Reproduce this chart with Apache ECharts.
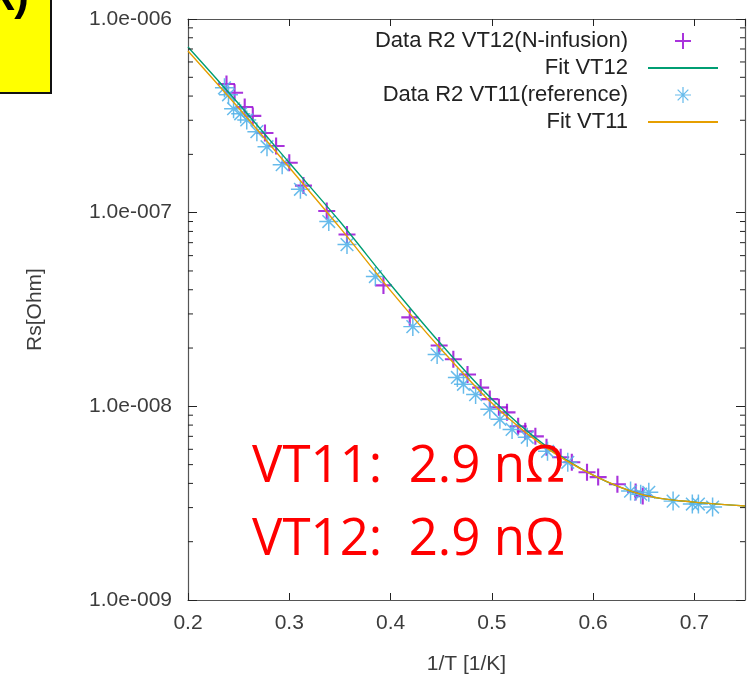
<!DOCTYPE html>
<html>
<head>
<meta charset="utf-8">
<script src="https://cdn.jsdelivr.net/npm/echarts@6/dist/echarts.min.js"></script>
<style>
  html, body { margin: 0; padding: 0; background: #fff; }
  #chart { width: 750px; height: 680px; }
</style>
</head>
<body>
<div id="chart"></div>
<script>
// Surface resistance vs inverse temperature, two cavities (VT11 reference, VT12 N-infusion)

// Measured points: 1/T [1/K] and Rs [Ohm]
const vt12X = [0.238, 0.246, 0.256, 0.264, 0.276, 0.287, 0.300, 0.314, 0.337, 0.357,
               0.393, 0.419, 0.448, 0.462, 0.476, 0.489, 0.498, 0.507, 0.515, 0.526,
               0.533, 0.543, 0.554, 0.568, 0.579, 0.594, 0.605, 0.624, 0.642, 0.649];
const vt12Y = [4.62e-7, 4.16e-7, 3.51e-7, 3.16e-7, 2.58e-7, 2.21e-7, 1.81e-7, 1.38e-7, 1.02e-7, 7.71e-8,
               4.21e-8, 2.88e-8, 2.06e-8, 1.75e-8, 1.46e-8, 1.25e-8, 1.09e-8, 9.88e-9, 9.31e-9, 7.89e-9,
               7.43e-9, 7.00e-9, 6.15e-9, 5.46e-9, 5.14e-9, 4.57e-9, 4.31e-9, 3.96e-9, 3.61e-9, 3.44e-9];

const vt11X = [0.236, 0.240, 0.245, 0.252, 0.258, 0.268, 0.278, 0.293, 0.311, 0.339,
               0.357, 0.385, 0.422, 0.446, 0.466, 0.472, 0.484, 0.498, 0.508, 0.520,
               0.535, 0.555, 0.575, 0.637, 0.647, 0.655, 0.679, 0.698, 0.704, 0.718];
const vt11Y = [4.41e-7, 4.06e-7, 3.44e-7, 3.24e-7, 3.01e-7, 2.62e-7, 2.19e-7, 1.77e-7, 1.32e-7, 9.0e-8,
               6.84e-8, 4.68e-8, 2.58e-8, 1.85e-8, 1.41e-8, 1.30e-8, 1.15e-8, 9.66e-9, 8.57e-9, 7.60e-9,
               6.92e-9, 5.86e-9, 5.14e-9, 3.65e-9, 3.52e-9, 3.60e-9, 3.24e-9, 3.13e-9, 3.13e-9, 3.02e-9];

// Fitted curves
const fitX     = [0.20, 0.25, 0.30, 0.35, 0.40, 0.45, 0.50, 0.55, 0.60, 0.65, 0.70, 0.75];
const fitVT12Y = [7.17e-7, 3.65e-7, 1.81e-7, 9.0e-8, 4.26e-8, 2.09e-8, 1.09e-8, 6.44e-9, 4.41e-9, 3.48e-9, 3.20e-9, 3.06e-9];
const fitVT11Y = [6.84e-7, 3.47e-7, 1.71e-7, 8.37e-8, 3.96e-8, 1.97e-8, 1.04e-8, 6.30e-9, 4.41e-9, 3.48e-9, 3.20e-9, 3.06e-9];

// Axis ranges and tick labels
const xMin = 0.2, xMax = 0.75, xStep = 0.1;
const xTickLabels = ['0.2', '0.3', '0.4', '0.5', '0.6', '0.7'];
const yMin = 1e-9, yMax = 1e-6;
const yTickLabels = ['1.0e-009', '1.0e-008', '1.0e-007', '1.0e-006'];
const yMinorTicks = [2e-9, 3e-9, 4e-9, 5e-9, 6e-9, 7e-9, 8e-9, 9e-9,
                     2e-8, 3e-8, 4e-8, 5e-8, 6e-8, 7e-8, 8e-8, 9e-8,
                     2e-7, 3e-7, 4e-7, 5e-7, 6e-7, 7e-7, 8e-7, 9e-7];

const legendNames = ['Data R2 VT12(N-infusion)', 'Fit VT12', 'Data R2 VT11(reference)', 'Fit VT11'];
const annotation = ['VT11:  2.9 n\u03A9', 'VT12:  2.9 n\u03A9'];

const FONT = '"Liberation Sans", Arial, sans-serif';
const TEXT = '#3c3c3c';
const FRAME = '#555';

const plusPath = 'path://M7,0H9V16H7Z M0,7H16V9H0Z';
const starPath = 'path://M8.3,0H9.7V18H8.3Z M0,8.3H18V9.7H0Z M2.5,3.5L3.5,2.5L15.5,14.5L14.5,15.5Z M14.5,2.5L15.5,3.5L3.5,15.5L2.5,14.5Z';

const zip = (xs, ys) => xs.map((x, i) => [x, ys[i]]);

const chart = echarts.init(document.getElementById('chart'), null, { renderer: 'canvas' });

const option = {
  animation: false,
  backgroundColor: '#fff',
  textStyle: { fontFamily: FONT },
  grid: { left: 188, right: 5, top: 19, bottom: 80, containLabel: false },
  legend: {
    orient: 'vertical',
    right: 26,
    top: 25,
    align: 'right',
    itemWidth: 70,
    itemHeight: 16,
    itemGap: 5,
    selectedMode: false,
    textStyle: { fontFamily: FONT, fontSize: 22, color: '#222', padding: [0, 15, 0, 0] },
    data: [
      { name: legendNames[0] },
      { name: legendNames[1], itemStyle: { opacity: 0 } },
      { name: legendNames[2] },
      { name: legendNames[3], itemStyle: { opacity: 0 } }
    ]
  },
  xAxis: [
    {
      type: 'value', min: xMin, max: xMax, interval: xStep,
      name: '1/T [1/K]', nameLocation: 'middle', nameGap: 54,
      nameTextStyle: { fontFamily: FONT, fontSize: 21, color: TEXT },
      axisLine: { show: true, lineStyle: { color: FRAME, width: 1.2 } },
      axisTick: { show: true, inside: true, length: 7, lineStyle: { color: '#222' } },
      axisLabel: {
        margin: 13, fontSize: 21, color: TEXT, fontFamily: FONT, showMaxLabel: false,
        formatter: (v) => {
          const i = Math.round((v - xMin) / xStep);
          return Math.abs(xMin + i * xStep - v) < 1e-6 ? (xTickLabels[i] || '') : '';
        }
      },
      splitLine: { show: false }
    },
    {
      type: 'value', position: 'top', min: xMin, max: xMax, interval: xStep,
      axisLine: { show: true, lineStyle: { color: FRAME, width: 1.2 } },
      axisTick: { show: true, inside: true, length: 7, lineStyle: { color: '#222' } },
      axisLabel: { show: false },
      splitLine: { show: false }
    }
  ],
  yAxis: [
    {
      type: 'log', logBase: 10, min: yMin, max: yMax,
      name: 'Rs[Ohm]', nameLocation: 'middle', nameGap: 142, nameRotate: 90,
      nameTextStyle: { fontFamily: FONT, fontSize: 21, color: TEXT },
      axisLine: { show: true, lineStyle: { color: FRAME, width: 1.2 } },
      axisTick: { show: true, inside: true, length: 9, lineStyle: { color: '#222' } },
      axisLabel: {
        margin: 16, fontSize: 21, color: TEXT, fontFamily: FONT,
        formatter: (v) => yTickLabels[Math.round(Math.log10(v / yMin))] || ''
      },
      splitLine: { show: false }
    },
    {
      type: 'log', logBase: 10, min: yMin, max: yMax, position: 'right',
      axisLine: { show: true, lineStyle: { color: FRAME, width: 1.2 } },
      axisTick: { show: true, inside: true, length: 9, lineStyle: { color: '#222' } },
      axisLabel: { show: false },
      splitLine: { show: false }
    }
  ],
  series: [
    {
      name: legendNames[0], type: 'scatter',
      symbol: plusPath, symbolSize: 17, symbolKeepAspect: true,
      itemStyle: { color: '#9400d3' },
      data: zip(vt12X, vt12Y), z: 3
    },
    {
      name: legendNames[1], type: 'line', symbol: 'none', smooth: 0.3,
      lineStyle: { color: '#009e73', width: 1.4 },
      itemStyle: { color: '#009e73' },
      data: zip(fitX, fitVT12Y), z: 4
    },
    {
      name: legendNames[2], type: 'scatter',
      symbol: starPath, symbolSize: 19, symbolKeepAspect: true,
      itemStyle: { color: '#56b4e9', opacity: 0.9 },
      data: zip(vt11X, vt11Y), z: 3
    },
    {
      name: legendNames[3], type: 'line', symbol: 'none', smooth: 0.3,
      lineStyle: { color: '#e69f00', width: 1.4 },
      itemStyle: { color: '#e69f00' },
      data: zip(fitX, fitVT11Y), z: 5
    },
    {
      // minor log ticks on the left and right frame edges
      type: 'custom', silent: true, z: 6,
      data: yMinorTicks.map((v) => [xMin, v]),
      renderItem: (params, api) => {
        const p = api.coord([xMin, api.value(1)]);
        const cs = params.coordSys;
        const style = { stroke: '#222', lineWidth: 1 };
        return {
          type: 'group',
          children: [
            { type: 'line', shape: { x1: cs.x, y1: p[1], x2: cs.x + 5, y2: p[1] }, style },
            { type: 'line', shape: { x1: cs.x + cs.width, y1: p[1], x2: cs.x + cs.width - 5, y2: p[1] }, style }
          ]
        };
      }
    }
  ],
  graphic: [
    {
      type: 'rect', z: 100,
      shape: { x: -3, y: -3, width: 54, height: 96 },
      style: { fill: '#ffff00', stroke: '#111', lineWidth: 2 }
    },
    {
      type: 'text', z: 101, x: 29, y: 20,
      style: { text: '(k)', fill: '#000', font: 'bold 44px ' + FONT, textAlign: 'right', textVerticalAlign: 'bottom' }
    },
    {
      type: 'text', z: 101, x: 252, y: 467,
      style: { text: annotation[0], fill: '#ff0000', font: '51px "Open Sans", "Noto Sans", sans-serif', textAlign: 'left', textVerticalAlign: 'middle' }
    },
    {
      type: 'text', z: 101, x: 252, y: 540,
      style: { text: annotation[1], fill: '#ff0000', font: '51px "Open Sans", "Noto Sans", sans-serif', textAlign: 'left', textVerticalAlign: 'middle' }
    }
  ]
};

chart.setOption(option);
</script>
</body>
</html>
